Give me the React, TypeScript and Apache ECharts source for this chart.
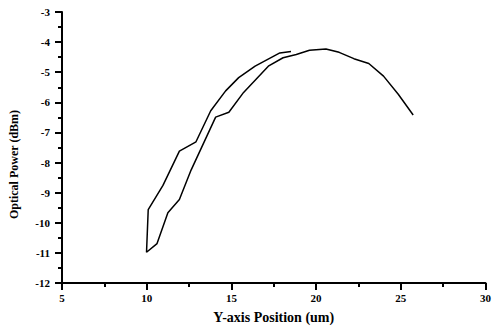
import React, { useEffect, useRef } from "react";
import * as echarts from "echarts";

const xPositions = [
  18.52, 17.86, 16.4, 15.43, 14.66, 13.78, 12.91, 11.93, 10.96, 10.09, 9.99,
  10.61, 11.25, 11.93, 12.62, 14.07, 14.85, 15.72, 17.18, 18.05, 18.83, 19.61,
  20.58, 21.36, 22.23, 23.11, 23.98, 24.85, 25.73,
];
const powers = [
  -4.31, -4.36, -4.8, -5.18, -5.62, -6.28, -7.31, -7.62, -8.76, -9.56, -10.98,
  -10.69, -9.67, -9.23, -8.25, -6.49, -6.33, -5.67, -4.8, -4.52, -4.41, -4.27,
  -4.23, -4.34, -4.55, -4.71, -5.13, -5.73, -6.42,
];
const xTitle = "Y-axis Position (um)";
const yTitle = "Optical Power (dBm)";

const serif = "'Liberation Serif', 'Times New Roman', serif";

export default function App() {
  const ref = useRef<HTMLDivElement>(null);
  useEffect(() => {
    if (!ref.current) return;
    const chart = echarts.init(ref.current, undefined, { renderer: "svg" });
    const data = xPositions.map((x, i) => [x, powers[i]]);
    const axisCommon = {
      axisLine: { show: true, onZero: false, lineStyle: { color: "#000", width: 2 } },
      axisTick: { show: true, inside: false, length: 7, lineStyle: { color: "#000", width: 2 } },
      minorTick: { show: true, splitNumber: 2, length: 4, lineStyle: { color: "#000", width: 2 } },
      splitLine: { show: false },
      axisLabel: { color: "#000", fontFamily: serif, fontWeight: "bold", fontSize: 11 },
      nameTextStyle: { color: "#000", fontFamily: serif, fontWeight: "bold", fontSize: 12 },
    };
    chart.setOption({
      animation: false,
      backgroundColor: "#fff",
      grid: { left: 61, right: 4, top: 12, bottom: 43, containLabel: false },
      xAxis: {
        type: "value",
        min: 5,
        max: 30,
        interval: 5,
        name: xTitle,
        nameLocation: "middle",
        nameGap: 27,
        ...axisCommon,
        axisLabel: { ...axisCommon.axisLabel, margin: 9 },
        nameTextStyle: { ...axisCommon.nameTextStyle, fontSize: 14 },
      },
      yAxis: {
        type: "value",
        min: -12,
        max: -3,
        interval: 1,
        name: yTitle,
        nameLocation: "middle",
        nameGap: 42,
        ...axisCommon,
        axisLabel: { ...axisCommon.axisLabel, margin: 12 },
        nameTextStyle: { ...axisCommon.nameTextStyle, padding: [0, 34, 0, 0] },
      },
      series: [
        {
          type: "line",
          data,
          showSymbol: false,
          symbol: "none",
          lineStyle: { color: "#000", width: 1.5 },
        },
      ],
    });
    return () => chart.dispose();
  }, []);
  return <div ref={ref} style={{ width: 494, height: 329, position: "absolute", left: 0, top: 0 }} />;
}
